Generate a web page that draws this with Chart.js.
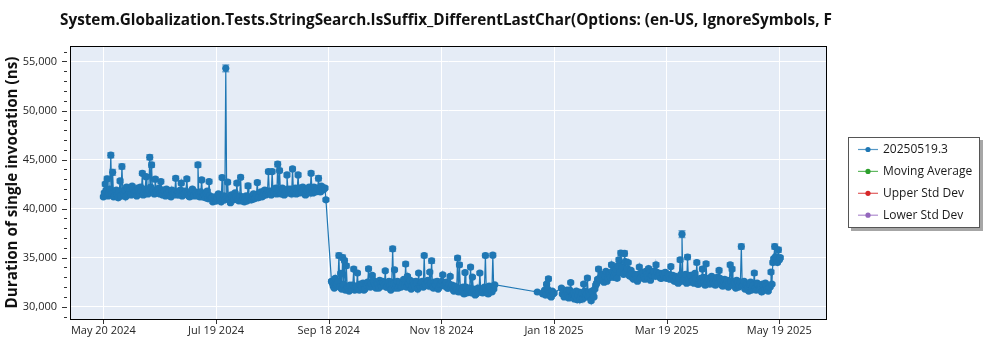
<!DOCTYPE html>
<html>
<head>
<meta charset="utf-8">
<script src="https://cdn.jsdelivr.net/npm/chart.js@4.4.1/dist/chart.umd.min.js"></script>
<style>
  html, body { margin: 0; padding: 0; background: #ffffff; }
  #wrap { width: 1000px; height: 350px; position: relative; }
</style>
</head>
<body>
<div id="wrap"><canvas id="c" width="1000" height="350"></canvas></div>
<script>
// ---- labels ----
const chartTitle = "System.Globalization.Tests.StringSearch.IsSuffix_DifferentLastChar(Options: (en-US, IgnoreSymbols, F";
const yAxisTitle = "Duration of single invocation (ns)";
const seriesNames = ["20250519.3", "Moving Average", "Upper Std Dev", "Lower Std Dev"];
const seriesColors = ["#1f77b4", "#2ca02c", "#d62728", "#9467bd"];

// x values are days counted from May 20 2024
const xTickDays = [0, 60.75, 121.5, 182.25, 243, 303.75, 364.5];
const xTickLabels = ["May 20 2024", "Jul 19 2024", "Sep 18 2024", "Nov 18 2024", "Jan 18 2025", "Mar 19 2025", "May 19 2025"];
const yTickValues = [30000, 35000, 40000, 45000, 50000, 55000];

// ---- morning runs: mean duration (ns) and std dev, one run per day ----
const runsAStart = 0;
const runsAMeans = [
  41200, 42500, 43030, 41600, 45450, 43700, 41300, 41900, 41100, 42830,
  44290, 41500, 41200, 42100, 41700, 41400, 42000, 41600, 41300, 41900,
  42200, 43600, 41700, 43260, 41500, 45240, 44460, 41900, 43000, 41600,
  42100, 42760, 41400, 41800, 42000, 41500, 41300, 41900, 41600, 43100,
  41700, 41400, 42600, 41800, 41500, 43030, 41300, 41700, 42000, 41400,
  41600, 44460, 41200, 42930, 41500, 41100, 41800, 42760, 41000, 40700,
  41200, 40800, 41500, 41100, 43170, 41300, 54300, 42700, 40900, 41400,
  41000, 41600, 42600, 40800, 43200, 41200, 40700, 41300, 42320, 41000,
  40900, 41500, 41100, 42660, 41200, 41700, 41300, 41900, 41500, 43780,
  41800, 43780, 41600, 42100, 44530, 43880, 41500, 41900, 41700, 43440,
  41600, 42000, 44050, 41800, 41500, 43440, 42100, 41700, 41900, 41400,
  41800, 42200, 43610, 41600, 41900, 42100, 43100, 41700, 42000, 42090,
  40900
];
const runsAErrs = [
  150, 200, 250, 150, 250, 300, 150, 150, 150, 200,
  250, 150, 150, 150, 150, 150, 150, 150, 150, 150,
  150, 200, 150, 200, 150, 250, 250, 150, 200, 150,
  150, 200, 150, 150, 150, 150, 150, 150, 150, 200,
  150, 150, 200, 150, 150, 200, 150, 150, 150, 150,
  150, 250, 150, 200, 150, 150, 150, 200, 150, 150,
  150, 150, 150, 150, 200, 150, 350, 200, 150, 150,
  150, 150, 200, 150, 200, 150, 150, 150, 250, 150,
  150, 150, 150, 200, 150, 150, 150, 150, 150, 200,
  150, 200, 150, 150, 250, 200, 150, 150, 150, 200,
  150, 150, 200, 150, 150, 200, 150, 150, 150, 150,
  150, 150, 200, 150, 150, 150, 250, 150, 150, 200,
  150
];

const runsBStart = 123;
const runsBMeans = [
  32600, 32100, 32900, 32300, 35220, 33400, 35020, 34710, 34170, 31900,
  32200, 31800, 33840, 32000, 33430, 31700, 32100, 32400, 31800, 32200,
  33870, 32000, 33190, 32500, 31900, 32300, 32700, 32100, 32400, 33670,
  32000, 32600, 31700, 35900, 33770, 32200, 31900, 32500, 32100, 32800,
  34350, 33090, 32300, 31800, 32500, 32000, 32400, 33430, 32100, 32600,
  35220, 32200, 32700, 33530, 34680, 31900, 32300, 32600, 32000, 32400,
  33260, 32100, 32500, 31900, 33090, 32200, 31600, 32000, 34960, 34280,
  31500, 32000, 33490, 31400, 31800, 34040, 33020, 31600, 31300, 31900,
  33430, 31500, 31800, 35220, 31400, 32100, 31700, 35260, 32240
];
const runsBErrs = [
  150, 120, 150, 120, 250, 150, 250, 200, 200, 120,
  120, 120, 200, 120, 150, 120, 120, 120, 120, 120,
  200, 120, 150, 120, 120, 120, 120, 120, 120, 150,
  120, 120, 120, 250, 150, 120, 120, 120, 120, 120,
  200, 150, 120, 120, 120, 120, 120, 150, 120, 120,
  200, 120, 120, 150, 250, 120, 120, 120, 120, 120,
  150, 120, 120, 120, 150, 120, 120, 120, 200, 200,
  120, 120, 150, 120, 120, 200, 150, 120, 120, 120,
  150, 120, 120, 200, 120, 120, 120, 200, 120
];

const runsCStart = 234;
const runsCMeans = [31500];
const runsCErrs = [120];

const runsDStart = 237;
const runsDMeans = [31300, 31700, 32300, 32850, 31100, 31600, 31400];
const runsDErrs = [120, 120, 150, 200, 120, 120, 120];

const runsEStart = 247;
const runsEMeans = [
  31900, 31500, 31100, 31700, 30900, 32470, 31300, 30800, 31600, 31200,
  30700, 31400, 32310, 31000, 32920, 31500, 30600, 31300, 31800, 32400,
  33840, 32700, 33200, 32500, 33600, 32900, 33300, 34280, 33000, 33500,
  32900, 34790, 35470, 34000, 35430, 33600, 34500, 33100, 33400, 32800,
  33200, 32600, 34040, 33000, 33500, 32800, 33300, 33900, 32700, 33200,
  33600, 34280, 33100, 33400, 32900, 33300, 33500, 33000, 33090, 34100,
  33200, 32600, 33000, 32400, 34790, 37400, 32800, 33300, 35060, 32500,
  33100, 32700, 33400, 34510, 32300, 32900, 33840, 32500, 34380, 32800,
  32300, 33100, 32600, 32200, 33000, 33700, 32500, 32100, 32800, 32400,
  32000, 34280, 33840, 32600, 31900, 32500, 32200, 36140, 32300, 31800,
  32200, 31600, 32500, 32000, 33430, 31700, 32300, 31900, 31500, 32100,
  32400, 31800, 32000, 33530, 34500, 36140, 34700, 35800, 35000
];
const runsEErrs = [
  120, 120, 120, 120, 120, 150, 120, 120, 120, 120,
  120, 120, 150, 120, 200, 120, 120, 120, 120, 150,
  200, 150, 150, 120, 150, 120, 150, 200, 150, 150,
  120, 200, 250, 150, 250, 150, 150, 120, 150, 120,
  150, 120, 200, 120, 150, 120, 150, 150, 120, 150,
  150, 200, 120, 150, 120, 150, 150, 120, 120, 200,
  150, 120, 120, 120, 200, 350, 120, 150, 250, 120,
  120, 120, 150, 200, 120, 120, 200, 120, 200, 120,
  120, 120, 120, 120, 120, 200, 120, 120, 120, 120,
  120, 200, 200, 120, 120, 120, 120, 250, 120, 120,
  120, 120, 120, 120, 200, 120, 120, 120, 120, 120,
  120, 120, 120, 200, 200, 250, 150, 250, 150
];

// ---- evening runs (half a day later), typical std dev per block ----
const lateAStart = 0.5;
const lateAMeans = [
  41600, 41900, 41300, 42000, 41500, 41200, 41800, 41400, 41700, 41300,
  41800, 41900, 42200, 41500, 41900, 42300, 41600, 41800, 42100, 41500,
  41800, 41400, 42000, 41600, 41900, 42200, 41700, 41500, 41800, 42000,
  41500, 41700, 41900, 41300, 41600, 41800, 41200, 41500, 41700, 41400,
  41600, 41900, 41300, 41500, 41800, 41600, 41200, 41500, 41300, 41700,
  41300, 41500, 41700, 41200, 41400, 41600, 41000, 41300, 41100, 40900,
  40800, 41100, 41300, 40700, 41000, 40900, 41200, 41000, 40600, 41100,
  40900, 41200, 41000, 41300, 40800, 41100, 41000, 40800, 41200, 40900,
  41300, 41000, 41400, 41100, 41500, 41200, 41600, 41400, 41800, 41600,
  41400, 41700, 42000, 41500, 41800, 41600, 42100, 41400, 41800, 42000,
  41900, 41500, 41700, 42100, 41900, 41600, 41800, 42200, 41500, 41900,
  42000, 41600, 41900, 42200, 41700, 42000, 41800, 42300, 41900, 42100
];
const lateAErr = 150;

const lateBStart = 123.5;
const lateBMeans = [
  32400, 31900, 32200, 32600, 32000, 31800, 32300, 31700, 32000, 31600,
  31900, 32200, 31700, 32100, 31800, 32300, 32000, 31700, 32300, 32500,
  32100, 32400, 32700, 32200, 32500, 31900, 32300, 32600, 32200, 32000,
  32400, 32100, 32500, 32300, 31900, 32600, 32200, 32000, 32400, 32200,
  32000, 32400, 32700, 32100, 32300, 32600, 31800, 32200, 32500, 32000,
  32300, 32600, 32100, 32400, 32000, 32500, 32200, 31800, 32300, 32600,
  32200, 32400, 31900, 32300, 32000, 31800, 32100, 31700, 31500, 31900,
  31700, 31300, 32000, 31600, 31900, 31400, 31800, 31200, 31700, 31500,
  31800, 31400, 32000, 31600, 31300, 31900, 31500, 31800
];
const lateBErr = 120;

const lateDStart = 237.5;
const lateDMeans = [31500, 31200, 31800, 31400, 31000, 31300];
const lateDErr = 120;

const lateEStart = 247.5;
const lateEMeans = [
  31300, 31000, 31500, 31200, 31700, 31000, 31400, 31100, 30700, 31500,
  31100, 30800, 31600, 31300, 31000, 31200, 31600, 31000, 32200, 32800,
  32900, 33300, 32700, 33100, 32600, 33400, 33000, 33600, 33200, 33800,
  34200, 33500, 34100, 33300, 34600, 33900, 33200, 33700, 32900, 33300,
  32800, 33300, 32900, 33400, 33100, 33600, 33000, 33400, 33200, 33600,
  33100, 33500, 33300, 32900, 33400, 33100, 32900, 33300, 32800, 33000,
  32700, 33100, 32500, 32900, 33300, 32600, 33000, 32400, 32800, 33200,
  32600, 32400, 32900, 32300, 32700, 32500, 33000, 32200, 32600, 32900,
  32500, 32800, 32300, 32700, 32400, 32900, 32200, 32600, 32300, 32700,
  32400, 32600, 32200, 32400, 32700, 32000, 32500, 32100, 32600, 32300,
  31900, 32300, 31700, 32200, 31900, 32400, 31800, 32100, 32300, 31700,
  32100, 31600, 32000, 32300, 34900, 35100, 34500, 34800
];
const lateEErr = 120;

// ---- assemble points in time order ----
const runPoints = [];
function addRuns(start, means, errs) {
  means.forEach((m, i) => runPoints.push({
    x: start + i, y: m, err: Array.isArray(errs) ? errs[i] : errs
  }));
}
addRuns(runsAStart, runsAMeans, runsAErrs);
addRuns(runsBStart, runsBMeans, runsBErrs);
addRuns(runsCStart, runsCMeans, runsCErrs);
addRuns(runsDStart, runsDMeans, runsDErrs);
addRuns(runsEStart, runsEMeans, runsEErrs);
addRuns(lateAStart, lateAMeans, lateAErr);
addRuns(lateBStart, lateBMeans, lateBErr);
addRuns(lateDStart, lateDMeans, lateDErr);
addRuns(lateEStart, lateEMeans, lateEErr);
runPoints.sort((a, b) => a.x - b.x);

// ---- fonts ----
const baseFont = '"Open Sans", "Noto Sans", sans-serif';
function fitSize(text, weight, width) {
  const ctx = document.createElement('canvas').getContext('2d');
  ctx.font = weight + ' 20px ' + baseFont;
  return 20 * width / ctx.measureText(text).width;
}
const titleSize = fitSize(chartTitle, 'bold', 772);
const yTitleSize = fitSize(yAxisTitle, 'bold', 252);

const PLOT_BG = '#e5ecf6';

// plot background
const backgroundPlugin = {
  id: 'plotBackground',
  beforeDraw(chart) {
    const { ctx, chartArea: a } = chart;
    ctx.save();
    ctx.fillStyle = '#ffffff';
    ctx.fillRect(0, 0, chart.width, chart.height);
    ctx.fillStyle = PLOT_BG;
    ctx.fillRect(a.left, a.top, a.right - a.left, a.bottom - a.top);
    ctx.restore();
  }
};

// std-dev whiskers with caps
const errorBarPlugin = {
  id: 'errorBars',
  beforeDatasetsDraw(chart) {
    const { ctx, chartArea: a } = chart;
    const ys = chart.scales.y;
    const meta = chart.getDatasetMeta(0);
    ctx.save();
    ctx.beginPath();
    ctx.rect(a.left, a.top, a.right - a.left, a.bottom - a.top);
    ctx.clip();
    ctx.strokeStyle = 'rgba(31,119,180,0.6)';
    ctx.lineWidth = 1.5;
    meta.data.forEach((el, i) => {
      const p = runPoints[i];
      const yt = ys.getPixelForValue(p.y + p.err);
      const yb = ys.getPixelForValue(p.y - p.err);
      const x = el.x;
      ctx.beginPath();
      ctx.moveTo(x, yt); ctx.lineTo(x, yb);
      ctx.moveTo(x - 3.5, yt); ctx.lineTo(x + 3.5, yt);
      ctx.moveTo(x - 3.5, yb); ctx.lineTo(x + 3.5, yb);
      ctx.stroke();
    });
    ctx.restore();
  }
};

// frame, tick marks, title and legend
const decorPlugin = {
  id: 'decor',
  afterDraw(chart) {
    const { ctx, chartArea: a } = chart;
    const ys = chart.scales.y, xs = chart.scales.x;
    ctx.save();
    ctx.strokeStyle = '#000000';
    ctx.lineWidth = 1;
    ctx.strokeRect(Math.round(a.left) + 0.5, Math.round(a.top) + 0.5,
                   Math.round(a.right - a.left) - 1, Math.round(a.bottom - a.top));

    // y tick marks (major + minor)
    ctx.strokeStyle = '#333333';
    ctx.beginPath();
    for (let v = Math.ceil(ys.min / 1000) * 1000; v <= ys.max; v += 1000) {
      const y = Math.round(ys.getPixelForValue(v)) + 0.5;
      const major = yTickValues.includes(v);
      ctx.moveTo(major ? a.left - 8 : a.left - 6, y);
      ctx.lineTo(a.left - 3, y);
    }
    // x tick marks
    xTickDays.forEach(d => {
      const x = Math.round(xs.getPixelForValue(d)) + 0.5;
      ctx.moveTo(x, a.bottom + 1);
      ctx.lineTo(x, a.bottom + 5);
    });
    ctx.stroke();

    // chart title
    ctx.fillStyle = '#111111';
    ctx.font = 'bold ' + titleSize.toFixed(2) + 'px ' + baseFont;
    ctx.textAlign = 'left';
    ctx.textBaseline = 'alphabetic';
    ctx.fillText(chartTitle, 60, 25);

    // legend box with drop shadow
    const lx = 848, ly = 137, lw = 132, lh = 91;
    ctx.fillStyle = '#a6a6a6';
    ctx.fillRect(lx + 3, ly + 3, lw, lh);
    ctx.fillStyle = '#ffffff';
    ctx.fillRect(lx, ly, lw, lh);
    ctx.strokeStyle = '#555555';
    ctx.strokeRect(lx + 0.5, ly + 0.5, lw - 1, lh - 1);
    ctx.font = '12px ' + baseFont;
    ctx.textBaseline = 'middle';
    chart.data.datasets.forEach((ds, i) => {
      const cy = ly + 12.5 + i * 21.9;
      ctx.strokeStyle = ds.borderColor;
      ctx.globalAlpha = 0.75;
      ctx.lineWidth = 1.2;
      ctx.beginPath();
      ctx.moveTo(858, cy); ctx.lineTo(878, cy);
      ctx.stroke();
      ctx.globalAlpha = 1;
      ctx.fillStyle = ds.borderColor;
      ctx.beginPath();
      ctx.arc(868, cy, 2.6, 0, Math.PI * 2);
      ctx.fill();
      ctx.fillStyle = '#1a1a1a';
      ctx.fillText(ds.label, 883, cy);
    });
    ctx.restore();
  }
};

new Chart(document.getElementById('c'), {
  type: 'scatter',
  data: {
    datasets: [
      {
        label: seriesNames[0],
        data: runPoints,
        showLine: true,
        borderColor: seriesColors[0],
        backgroundColor: seriesColors[0],
        borderWidth: 1.2,
        pointRadius: 3.6,
        pointBorderWidth: 0,
        pointHoverRadius: 3.6
      },
      { label: seriesNames[1], data: [], showLine: true, borderColor: seriesColors[1], backgroundColor: seriesColors[1] },
      { label: seriesNames[2], data: [], showLine: true, borderColor: seriesColors[2], backgroundColor: seriesColors[2] },
      { label: seriesNames[3], data: [], showLine: true, borderColor: seriesColors[3], backgroundColor: seriesColors[3] }
    ]
  },
  options: {
    responsive: false,
    animation: false,
    devicePixelRatio: 1,
    layout: { padding: { top: 46, right: 173, bottom: 0, left: 0 } },
    plugins: {
      legend: { display: false },
      tooltip: { enabled: false },
      title: { display: false }
    },
    scales: {
      x: {
        type: 'linear',
        min: -18,
        max: 390.2,
        afterFit(scale) { scale.height = 31; },
        afterBuildTicks(scale) { scale.ticks = xTickDays.map(v => ({ value: v })); },
        ticks: {
          autoSkip: false,
          maxRotation: 0,
          padding: 5,
          color: '#262626',
          font: { family: baseFont, size: 11 },
          callback(value, index) { return xTickLabels[index]; }
        },
        grid: { color: '#ffffff', lineWidth: 1, drawTicks: false },
        border: { display: false }
      },
      y: {
        type: 'linear',
        min: 28750,
        max: 56580,
        afterFit(scale) { scale.width = 70; },
        afterBuildTicks(scale) { scale.ticks = yTickValues.map(v => ({ value: v })); },
        ticks: {
          autoSkip: false,
          padding: 13,
          color: '#262626',
          font: { family: baseFont, size: 11 },
          callback(value) { return value.toLocaleString('en-US'); }
        },
        grid: { color: '#ffffff', lineWidth: 1, drawTicks: false },
        border: { display: false },
        title: {
          display: true,
          text: yAxisTitle,
          color: '#111111',
          font: { family: baseFont, size: yTitleSize, weight: 'bold' },
          padding: { top: 4, bottom: 0 }
        }
      }
    }
  },
  plugins: [backgroundPlugin, errorBarPlugin, decorPlugin]
});
</script>
</body>
</html>
